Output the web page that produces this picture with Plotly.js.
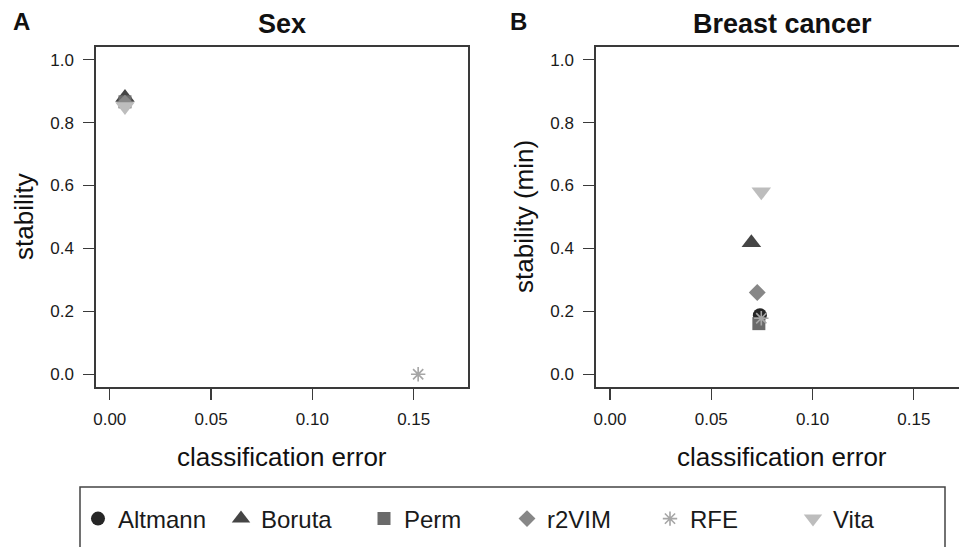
<!DOCTYPE html>
<html><head><meta charset="utf-8">
<script src="https://cdn.plot.ly/plotly-3.0.1.min.js"></script>
<style>html,body{margin:0;padding:0;background:#fff}#chart{width:959px;height:547px}</style>
</head><body><div id="chart"></div>
<script>
const methods = ['Altmann', 'Boruta', 'Perm', 'r2VIM', 'RFE', 'Vita'];
const sexError = [0.0075, 0.0075, 0.0075, 0.0075, 0.1522, 0.0075];
const sexStability = [0.870, 0.880, 0.866, 0.862, 0.0, 0.851];
const bcError = [0.0740, 0.0698, 0.0735, 0.0727, 0.0747, 0.0747];
const bcStability = [0.188, 0.418, 0.161, 0.260, 0.178, 0.580];
const xTicks = [0, 0.05, 0.10, 0.15];
const yTicks = [0, 0.2, 0.4, 0.6, 0.8, 1.0];
const colors = ['#262626', '#454545', '#6a6a6a', '#878787', '#a6a6a6', '#bdbdbd'];
const symbols = ['circle', 'triangle-up', 'square', 'diamond', 'asterisk-open', 'triangle-down'];
const sizes = [14, 17, 13, 13, 12, 17];

const W = 959, H = 547;
const px = x => x / W;
const py = y => 1 - y / H;
const FONT = 'Liberation Sans, Arial, Helvetica, sans-serif';
const TXT = '#1a1a1a';
const LINE = '#3a3a3a';

const traces = [];
methods.forEach((m, i) => {
  const marker = {
    symbol: symbols[i], size: sizes[i], color: colors[i],
    line: {width: symbols[i] === 'asterisk-open' ? 1.6 : 0, color: colors[i]}
  };
  traces.push({
    type: 'scatter', mode: 'markers', name: m, legendgroup: m,
    x: [sexError[i]], y: [sexStability[i]], xaxis: 'x', yaxis: 'y',
    marker: marker, showlegend: true, hoverinfo: 'skip'
  });
  traces.push({
    type: 'scatter', mode: 'markers', name: m, legendgroup: m,
    x: [bcError[i]], y: [bcStability[i]], xaxis: 'x2', yaxis: 'y2',
    marker: marker, showlegend: false, hoverinfo: 'skip'
  });
});

const xBase = {
  tickvals: xTicks, tickformat: '.2f', ticks: 'outside', ticklen: 11, tickwidth: 1.2,
  tickcolor: LINE, showline: true, linecolor: LINE, linewidth: 1.6, mirror: true,
  showgrid: false, zeroline: false, tickfont: {family: FONT, size: 17, color: TXT},
  ticklabelstandoff: 5, fixedrange: true
};
const yBase = {
  tickvals: yTicks, tickformat: '.1f', ticks: 'outside', ticklen: 11, tickwidth: 1.2,
  tickcolor: LINE, showline: true, linecolor: LINE, linewidth: 1.6,
  showgrid: false, zeroline: false, tickfont: {family: FONT, size: 17, color: TXT},
  ticklabelstandoff: 6, range: [-0.0404, 1.0403], domain: [py(387), py(47)], fixedrange: true
};

const ann = (text, x, y, size, bold, angle) => ({
  text: bold ? '<b>' + text + '</b>' : text, x: px(x), y: py(y), xref: 'paper', yref: 'paper',
  showarrow: false, xanchor: 'center', yanchor: 'middle', textangle: angle || 0,
  font: {family: FONT, size: size, color: '#111'}
});

const layout = {
  width: W, height: H,
  margin: {l: 0, r: 0, t: 0, b: 0, autoexpand: false},
  paper_bgcolor: '#fff', plot_bgcolor: '#fff',
  xaxis: Object.assign({}, xBase, {domain: [px(96), px(468)], range: [-0.0068, 0.1768], anchor: 'y'}),
  yaxis: Object.assign({}, yBase, {anchor: 'x', mirror: true}),
  xaxis2: Object.assign({}, xBase, {domain: [px(596), 1], range: [-0.0069, 0.1723], anchor: 'y2'}),
  yaxis2: Object.assign({}, yBase, {anchor: 'x2', mirror: false}),
  showlegend: true,
  legend: {
    orientation: 'h', x: px(78), xanchor: 'left', y: py(519), yanchor: 'middle',
    font: {family: FONT, size: 24, color: TXT}, entrywidth: 98, entrywidthmode: 'pixels',
    bgcolor: 'rgba(0,0,0,0)', borderwidth: 0, tracegroupgap: 0
  },
  shapes: [{
    type: 'rect', xref: 'paper', yref: 'paper', x0: px(80), x1: px(945), y0: py(487), y1: -0.2,
    line: {color: '#444', width: 1.5}, fillcolor: 'rgba(0,0,0,0)'
  }],
  annotations: [
    ann('A', 21, 22, 24, true),
    ann('B', 518, 21, 24, true),
    ann('Sex', 282, 24, 27, true),
    ann('Breast cancer', 782, 24, 27, true),
    ann('stability', 24, 217, 26, false, -90),
    ann('stability (min)', 524, 217, 26, false, -90),
    ann('classification error', 282, 457, 26, false),
    ann('classification error', 782, 457, 26, false)
  ]
};

Plotly.newPlot('chart', traces, layout, {staticPlot: true, displayModeBar: false});
</script>
</body></html>
